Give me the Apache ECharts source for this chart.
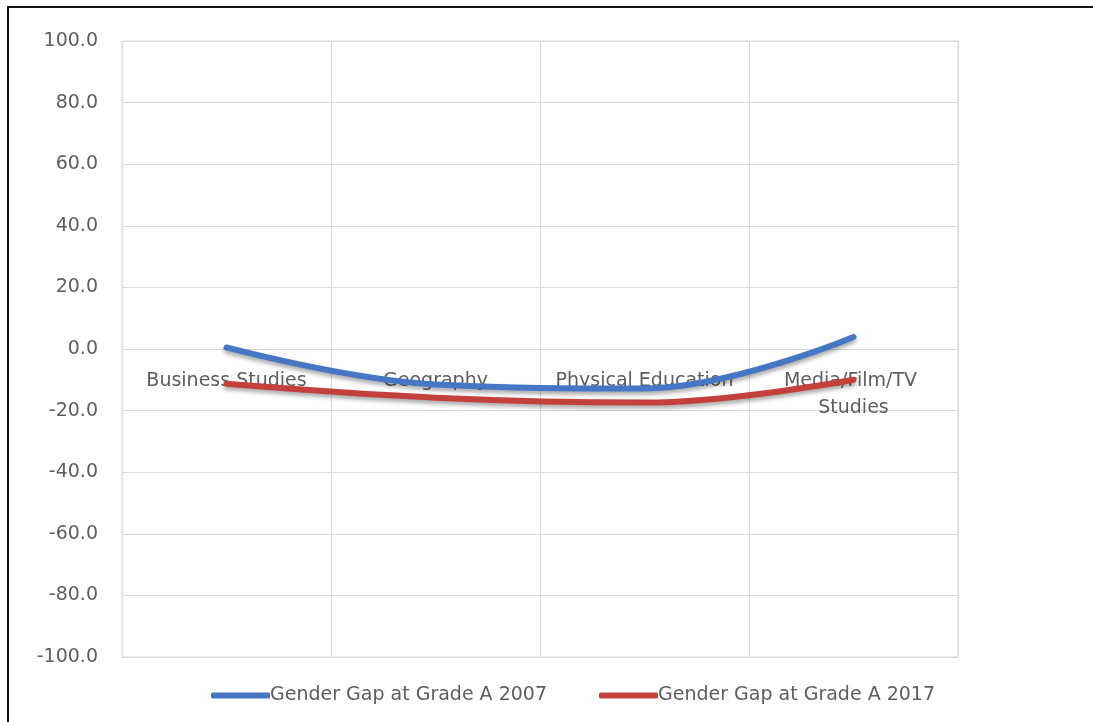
<!DOCTYPE html>
<html>
<head>
<meta charset="utf-8">
<script src="https://cdn.jsdelivr.net/npm/echarts@6/dist/echarts.min.js"></script>
<style>
html,body{margin:0;padding:0;background:#fff;}
#chart{width:1093px;height:722px;position:absolute;left:0;top:0;}
#frame{position:absolute;left:7px;top:6px;width:1100px;height:730px;border-left:2px solid #111;border-top:2px solid #111;pointer-events:none;}
</style>
</head>
<body>
<div id="chart"></div>
<div id="frame"></div>
<script>
const categories = ['Business Studies', 'Geography', 'Physical Education', 'Media/Film/TV Studies'];
const gap2007 = [0.5, -11.5, -12.8, 3.9];
const gap2017 = [-11.3, -15.8, -17.4, -10.0];
const seriesNames = ['Gender Gap at Grade A 2007', 'Gender Gap at Grade A 2017'];
const yMin = -100, yMax = 100, yStep = 20;

const font = 'DejaVu Sans';
const txt = '#5e5e5e';
const gridC = '#d9d9d9';

const chart = echarts.init(document.getElementById('chart'), null, {renderer: 'canvas'});
const mkSeries = (name, data, color) => ({
  name: name, type: 'line', data: data, smooth: 0.4,
  symbol: 'none', showSymbol: false,
  lineStyle: {color: color, width: 6, cap: 'round',
    shadowColor: 'rgba(0,0,0,0.35)', shadowBlur: 4, shadowOffsetY: 3},
  itemStyle: {color: color}
});
chart.setOption({
  animation: false,
  backgroundColor: '#ffffff',
  grid: {left: 122, right: 135, top: 41, bottom: 65, show: true, borderColor: gridC, borderWidth: 1},
  legend: {
    left: 211, top: 686, itemWidth: 59, itemHeight: 6, itemGap: 52, padding: 0,
    icon: 'roundRect',
    textStyle: {fontFamily: font, fontSize: 19, color: txt, padding: [0,0,0,-5]},
    data: seriesNames
  },
  xAxis: {
    type: 'category', data: categories, boundaryGap: true,
    axisLine: {show: false, onZero: false},
    axisTick: {show: false},
    splitLine: {show: true, lineStyle: {color: gridC, width: 1}},
    axisLabel: {interval: 0, margin: 16, color: txt, fontFamily: font, fontSize: 19,
      lineHeight: 27, width: 195, overflow: 'break'}
  },
  yAxis: {
    type: 'value', min: yMin, max: yMax, interval: yStep,
    axisLine: {show: false}, axisTick: {show: false},
    splitLine: {lineStyle: {color: gridC, width: 1}},
    axisLabel: {margin: 24, color: txt, fontFamily: font, fontSize: 19,
      formatter: v => v.toFixed(1)}
  },
  series: [
    mkSeries(seriesNames[0], gap2007, '#4677c4'),
    mkSeries(seriesNames[1], gap2017, '#c3403c')
  ]
});
// place the category axis labels on the zero line of the value axis
const yZero = chart.convertToPixel({yAxisIndex: 0}, 0);
const yBottom = chart.convertToPixel({yAxisIndex: 0}, yMin);
chart.setOption({xAxis: {offset: yZero - yBottom}});
</script>
</body>
</html>
